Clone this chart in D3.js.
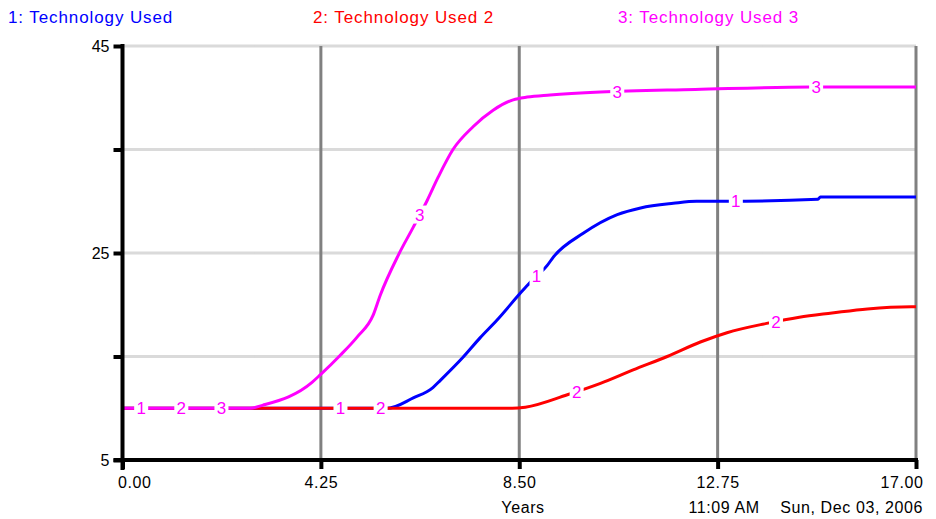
<!DOCTYPE html>
<html>
<head>
<meta charset="utf-8">
<script src="https://cdn.jsdelivr.net/npm/d3@7/dist/d3.min.js"></script>
<style>
  body { margin: 0; background: #fff; }
  svg { display: block; font-family: "Liberation Sans", Arial, sans-serif; }
</style>
</head>
<body>
<svg id="chart" width="936" height="519"></svg>
<script>
// Simulated adoption of three technologies over 17 years
const seriesNames = ["1: Technology Used", "2: Technology Used 2", "3: Technology Used 3"];
const seriesColors = ["#0000ff", "#ff0000", "#ff00ff"];

const time1 = [0, 5.67, 6.23, 6.65, 6.81, 7.3, 7.66, 8.02, 8.52, 8.74, 9.1, 9.23, 9.87, 10.6, 11.1, 11.8, 12.3, 12.96, 14.9, 14.95, 17];
const tech1 = [10, 10, 11.0, 12.0, 12.7, 14.95, 16.8, 18.5, 21.1, 22.2, 23.8, 24.6, 26.9, 28.7, 29.35, 29.8, 30.0, 30.0, 30.2, 30.4, 30.4];

const time2 = [0, 8.35, 8.63, 9.53, 10.24, 10.94, 11.67, 12.38, 12.95, 13.8, 14.5, 15.2, 15.96, 16.9, 17];
const tech2 = [10, 10, 10.1, 11.3, 12.4, 13.7, 15.0, 16.4, 17.3, 18.2, 18.8, 19.2, 19.6, 19.8, 19.8];

const time3 = [0, 2.73, 3.01, 4.06, 4.23, 4.66, 5.03, 5.37, 5.52, 5.91, 6.23, 6.53, 6.76, 7.08, 7.51, 7.94, 8.37, 8.67, 9.16, 10.24, 12.27, 14.74, 17];
const tech3 = [10, 10, 10.3, 12.5, 13.2, 15.1, 16.9, 19.0, 20.9, 24.8, 27.5, 30.1, 32.3, 35.0, 37.2, 38.8, 39.8, 40.07, 40.27, 40.56, 40.8, 41.04, 41.04];

// Times at which each curve carries its number tag
const tagTimes1 = [0.4, 4.67, 8.87, 13.14];
const tagTimes2 = [1.26, 5.53, 9.73, 14.0];
const tagTimes3 = [2.12, 6.37, 10.6, 14.86];

const xTicks = [0, 4.25, 8.5, 12.75, 17];
const xTickLabels = ["0.00", "4.25", "8.50", "12.75", "17.00"];
const yTicks = [5, 15, 25, 35, 45];
const yTickLabels = ["5", "", "25", "", "45"];
const xTitle = "Years";
const stampTime = "11:09 AM";
const stampDate = "Sun, Dec 03, 2006";

const svg = d3.select("#chart");
const x = d3.scaleLinear().domain([0, 17]).range([122.5, 916]);
const y = d3.scaleLinear().domain([5, 45]).range([460, 46]);

// Legend
const legendX = [8, 313, 618];
seriesNames.forEach((name, i) => {
  svg.append("text")
    .attr("x", legendX[i]).attr("y", 23)
    .attr("fill", seriesColors[i])
    .attr("font-size", 17)
    .attr("letter-spacing", 0.9)
    .text(name);
});

// Grid
const grid = svg.append("g");
yTicks.filter(v => v > 5).forEach(v => {
  grid.append("line")
    .attr("x1", x(0)).attr("x2", x(17))
    .attr("y1", y(v)).attr("y2", y(v))
    .attr("stroke", "#b4b4b4").attr("stroke-width", 3)
    .attr("stroke-dasharray", "1,1");
});
xTicks.filter(t => t > 0).forEach(t => {
  grid.append("line")
    .attr("x1", x(t)).attr("x2", x(t))
    .attr("y1", y(45)).attr("y2", y(5))
    .attr("stroke", "#808080").attr("stroke-width", 3);
});

// Curves
const series = [
  { t: time1, v: tech1, tags: tagTimes1, color: seriesColors[0], num: "1" },
  { t: time2, v: tech2, tags: tagTimes2, color: seriesColors[1], num: "2" },
  { t: time3, v: tech3, tags: tagTimes3, color: seriesColors[2], num: "3" }
];
const line = d3.line()
  .x(d => x(d[0])).y(d => y(d[1]))
  .curve(d3.curveMonotoneX);

series.forEach(s => {
  const pts = s.t.map((t, i) => [t, s.v[i]]);
  svg.append("path")
    .attr("d", line(pts))
    .attr("fill", "none")
    .attr("stroke", s.color)
    .attr("stroke-width", 3);
});

// Number tags on the curves
function valueAt(s, t) {
  const i = d3.bisectRight(s.t, t);
  if (i <= 0) return s.v[0];
  if (i >= s.t.length) return s.v[s.v.length - 1];
  const t0 = s.t[i - 1], t1 = s.t[i];
  return s.v[i - 1] + (s.v[i] - s.v[i - 1]) * (t - t0) / (t1 - t0);
}
const tags = svg.append("g");
series.forEach(s => {
  s.tags.forEach(t => {
    const cx = x(t), cy = y(valueAt(s, t));
    tags.append("rect")
      .attr("x", cx - 7).attr("y", cy - 9)
      .attr("width", 14).attr("height", 18)
      .attr("fill", "#fff");
    tags.append("text")
      .attr("x", cx).attr("y", cy + 6)
      .attr("text-anchor", "middle")
      .attr("font-size", 17)
      .attr("fill", "#ff00ff")
      .text(s.num);
  });
});

// Axes
const yAxis = d3.axisLeft(y)
  .tickValues(yTicks)
  .tickSize(9)
  .tickPadding(4)
  .tickFormat((d, i) => yTickLabels[i]);
const gy = svg.append("g").attr("transform", `translate(${x(0)},0)`).call(yAxis);
gy.select(".domain").remove();
gy.selectAll(".tick line").attr("stroke", "#000").attr("stroke-width", 4);
gy.selectAll(".tick text").attr("font-size", 16).attr("fill", "#000")
  .attr("font-family", "Liberation Sans, Arial, sans-serif");

const xAxis = d3.axisBottom(x)
  .tickValues(xTicks)
  .tickSize(9)
  .tickPadding(8)
  .tickFormat((d, i) => xTickLabels[i]);
const gx = svg.append("g").attr("transform", `translate(0,${y(5)})`).call(xAxis);
gx.select(".domain").remove();
gx.selectAll(".tick line").attr("stroke", "#000").attr("stroke-width", 4);
gx.selectAll(".tick text").attr("font-size", 16).attr("fill", "#000")
  .attr("font-family", "Liberation Sans, Arial, sans-serif")
  .attr("letter-spacing", 0.6);
gx.selectAll(".tick text").filter((d, i) => i === 0)
  .attr("text-anchor", "start").attr("dx", -5);
gx.selectAll(".tick text").filter((d, i) => i === xTicks.length - 1)
  .attr("text-anchor", "end").attr("dx", 7);

// Axis lines
svg.append("line")
  .attr("x1", x(0)).attr("x2", x(0))
  .attr("y1", y(45) - 2).attr("y2", y(5) + 10)
  .attr("stroke", "#000").attr("stroke-width", 4);
svg.append("line")
  .attr("x1", x(0) - 9).attr("x2", x(17) + 2)
  .attr("y1", y(5)).attr("y2", y(5))
  .attr("stroke", "#000").attr("stroke-width", 4);

// Footer
svg.append("text").attr("x", 523).attr("y", 513)
  .attr("text-anchor", "middle").attr("font-size", 16).attr("letter-spacing", 0.6)
  .text(xTitle);
svg.append("text").attr("x", 724).attr("y", 513)
  .attr("text-anchor", "middle").attr("font-size", 16).attr("letter-spacing", 0.6)
  .text(stampTime);
svg.append("text").attr("x", 923).attr("y", 513)
  .attr("text-anchor", "end").attr("font-size", 16).attr("letter-spacing", 0.6)
  .text(stampDate);
</script>
</body>
</html>
